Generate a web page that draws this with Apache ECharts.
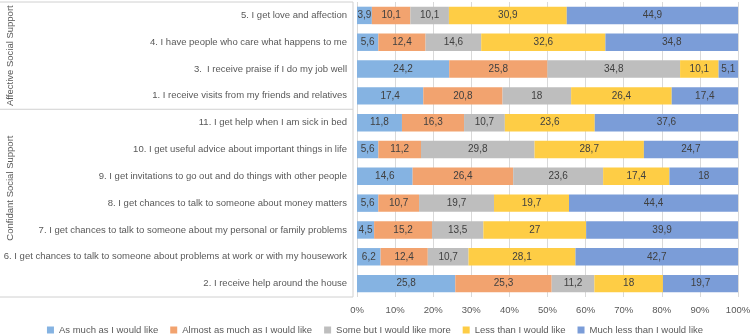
<!DOCTYPE html>
<html>
<head>
<meta charset="utf-8">
<script src="https://cdn.jsdelivr.net/npm/echarts@6/dist/echarts.min.js"></script>
<style>
  html, body { margin: 0; padding: 0; background: #fff; }
  #chart { width: 750px; height: 335px; }
</style>
</head>
<body>
<div id="chart"></div>
<script>
// items, top to bottom
const categories = [
  '5. I get love and affection',
  '4. I have people who care what happens to me',
  '3.  I receive praise if I do my job well',
  '1. I receive visits from my friends and relatives',
  '11. I get help when I am sick in bed',
  '10. I get useful advice about important things in life',
  '9. I get invitations to go out and do things with other people',
  '8. I get chances to talk to someone about money matters',
  '7. I get chances to talk to someone about my personal or family problems',
  '6. I get chances to talk to someone about problems at work or with my housework',
  '2. I receive help around the house'
];

const groups = ['Affective Social Support', 'Confidant Social Support'];
const groupSizes = [4, 7];

const seriesNames = [
  'As much as I would like',
  'Almost as much as I would like',
  'Some but I would like more',
  'Less than I would like',
  'Much less than I would like'
];

const asMuch     = [3.9, 5.6, 24.2, 17.4, 11.8, 5.6, 14.6, 5.6, 4.5, 6.2, 25.8];
const almostAs   = [10.1, 12.4, 25.8, 20.8, 16.3, 11.2, 26.4, 10.7, 15.2, 12.4, 25.3];
const someBut    = [10.1, 14.6, 34.8, 18, 10.7, 29.8, 23.6, 19.7, 13.5, 10.7, 11.2];
const lessThan   = [30.9, 32.6, 10.1, 26.4, 23.6, 28.7, 17.4, 19.7, 27, 28.1, 18];
const muchLess   = [44.9, 34.8, 5.1, 17.4, 37.6, 24.7, 18, 44.4, 39.9, 42.7, 19.7];

const colors = ['#85B3E2', '#F2A36F', '#BEBEBE', '#FECD45', '#7B9DD8'];

const FONT = "'Liberation Sans Narrow', 'Liberation Sans', sans-serif";
const GRID = { left: 357, right: 12, top: 2, bottom: 38 };

const chart = echarts.init(document.getElementById('chart'));

const table = [asMuch, almostAs, someBut, lessThan, muchLess];
// 100% stacked: each row is scaled to its own total, labels keep the raw value
const rowTotals = categories.map((c, r) => table.reduce((s, vals) => s + vals[r], 0));

const allSeries = table.map((vals, i) => ({
  name: seriesNames[i],
  type: 'bar',
  stack: 'total',
  barWidth: '65%',
  data: vals.map((v, r) => ({ value: v / rowTotals[r] * 100, raw: v })),
  itemStyle: { color: colors[i] },
  label: {
    show: true,
    position: 'inside',
    color: '#404040',
    fontSize: 10,
    fontFamily: FONT,
    formatter: p => String(p.data.raw).replace('.', ',')
  },
  emphasis: { disabled: true }
}));

// bracket lines + vertical group titles on the left
const plotH = 335 - GRID.top - GRID.bottom;
const band = plotH / categories.length;
const boxRight = GRID.left - 4;
const graphics = [];
let y0 = GRID.top;
graphics.push({ type: 'line', shape: { x1: 0, y1: y0, x2: boxRight, y2: y0 }, style: { stroke: '#D0D0D0', lineWidth: 1 } });
groups.forEach((g, i) => {
  const y1 = y0 + groupSizes[i] * band;
  graphics.push({ type: 'line', shape: { x1: 0, y1: y1, x2: boxRight, y2: y1 }, style: { stroke: '#D0D0D0', lineWidth: 1 } });
  graphics.push({
    type: 'text',
    x: 10,
    y: i === 0 ? (y0 + y1) / 2 : y0 + (y1 - y0) * 0.42,
    rotation: Math.PI / 2,
    style: { text: g, fill: '#595959', font: '9.5px ' + FONT, textAlign: 'center', textVerticalAlign: 'middle' }
  });
  y0 = y1;
});
graphics.push({ type: 'line', shape: { x1: boxRight, y1: GRID.top, x2: boxRight, y2: y0 }, style: { stroke: '#D0D0D0', lineWidth: 1 } });

chart.setOption({
  animation: false,
  color: colors,
  grid: Object.assign({ outerBoundsMode: 'none', containLabel: false }, GRID),
  legend: {
    top: 320,
    left: 'center',
    itemWidth: 7,
    itemHeight: 7,
    itemGap: 12,
    icon: 'rect',
    textStyle: { color: '#595959', fontSize: 9.5, fontFamily: FONT },
    data: seriesNames
  },
  xAxis: {
    type: 'value',
    min: 0,
    max: 100,
    interval: 10,
    axisLabel: { formatter: '{value}%', color: '#595959', fontSize: 9.5, fontFamily: FONT, margin: 8 },
    axisLine: { show: false },
    axisTick: { show: false },
    splitLine: { lineStyle: { color: '#D9D9D9' } }
  },
  yAxis: {
    type: 'category',
    inverse: true,
    data: categories,
    axisLabel: { color: '#595959', fontSize: 9.5, fontFamily: FONT, margin: 10 },
    axisLine: { show: false },
    axisTick: { show: false }
  },
  series: allSeries,
  graphic: graphics
});
</script>
</body>
</html>
